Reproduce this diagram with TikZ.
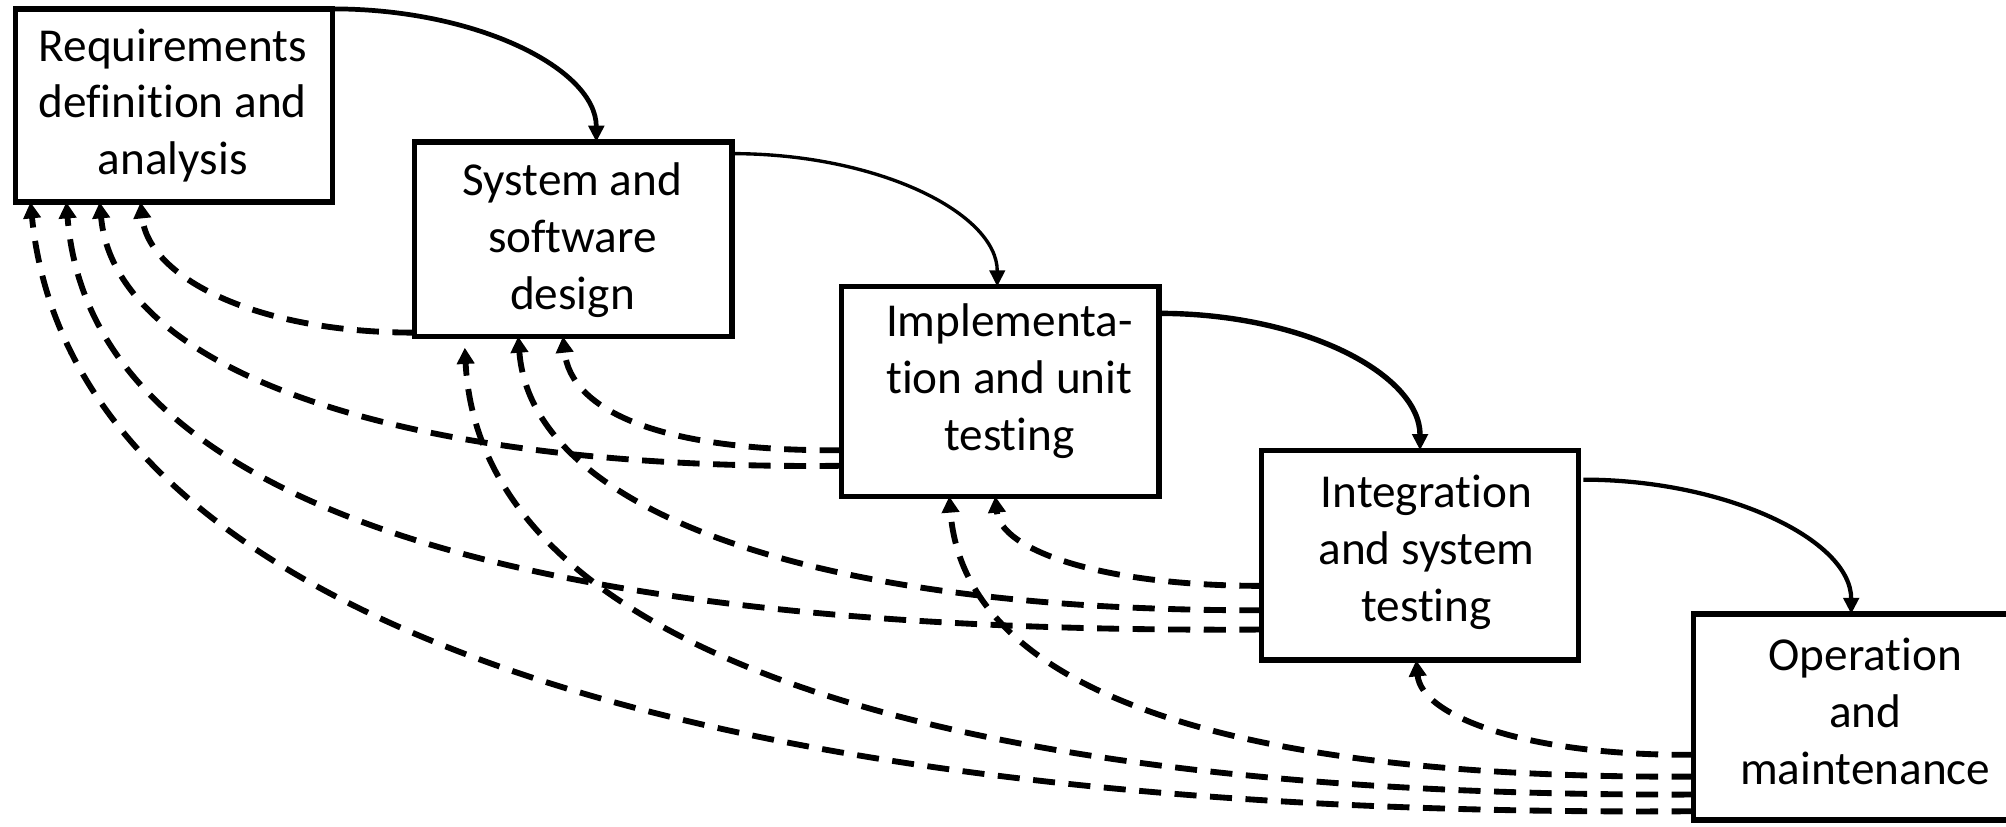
\documentclass[tikz,border=0pt]{standalone}
\usepackage{fontspec}
\setmainfont{Carlito}[Ligatures={NoCommon,NoContextual,NoRare,NoRequired},Contextuals={NoAlternate},RawFeature={-liga}]
\usetikzlibrary{arrows.meta,calc}
\begin{document}
\begin{tikzpicture}[x=0.01cm,y=-0.01cm,
  box/.style={draw,line width=1.2pt,inner sep=0pt,outer sep=0pt},
  lbl/.style={align=center,font=\fontsize{10.5}{12.65}\selectfont,inner sep=0pt},
  fb/.style={line width=1.3pt,dash pattern=on 4.9pt off 3pt,-{Triangle[length=3.6pt,width=3.8pt]}},
  fw/.style={line width=0.95pt,-{Triangle[length=3.6pt,width=3.4pt]}}]
\fill[white] (0,0) rectangle (1568,646);
\clip (0,0) rectangle (1568,646);
% boxes
\node[box,minimum width=2.48cm,minimum height=1.51cm] (b1) at (136,82.5) {};
\node[box,minimum width=2.48cm,minimum height=1.52cm] (b2) at (448,187) {};
\node[box,minimum width=2.48cm,minimum height=1.64cm] (b3) at (782,306) {};
\node[box,minimum width=2.48cm,minimum height=1.64cm] (b4) at (1110,434) {};
\node[box,minimum width=2.68cm,minimum height=1.61cm] (b5) at (1458,560.5) {};
% labels
\node[lbl] (t1) at (135,82.5) {Requirements\\definition and\\analysis};
\node[lbl] (t2) at (447.5,188) {System and\\software\\design};
\node[lbl] (t3) at (789,298) {Implementa-\\tion and unit\\testing};
\node[lbl] (t4) at (1115,432) {Integration\\and system\\testing};
\node[lbl] (t5) at (1458,556) {Operation\\and\\maintenance};
% forward arrows
\draw[fw,line width=1.05pt] (b1.north east) .. controls +(113,0) and +(0,-57) .. ($(b2.north west)!0.573!(b2.north east)$);
\draw[fw,line width=0.75pt] ($(b2.north east)!0.06!(b2.south east)$) .. controls +(115,0) and +(0,-57) .. ($(b3.north west)!0.49!(b3.north east)$);
\draw[fw,line width=1.2pt] ($(b3.north east)!0.128!(b3.south east)$) .. controls +(114,0) and +(0,-59) .. ($(b4.north west)!0.5!(b4.north east)$);
\draw[fw,shorten <=1pt] ($(b4.north east)!0.14!(b4.south east)$) .. controls +(115,0) and +(0,-58) .. ($(b5.north west)!0.459!(b5.north east)$);
% feedback arrows to b1
\draw[fb] ($(b2.north west)!0.98!(b2.south west)$) .. controls +(-124,0) and +(6,59) .. ($(b1.south west)!0.395!(b1.south east)$);
\draw[fb] ($(b3.north west)!0.854!(b3.south west)$) .. controls +(-350,4) and +(12,130) .. ($(b1.south west)!0.266!(b1.south east)$);
\draw[fb] ($(b4.north west)!0.854!(b4.south west)$) .. controls +(-600,4) and +(18,230) .. ($(b1.south west)!0.161!(b1.south east)$);
\draw[fb] ($(b5.north west)!0.957!(b5.south west)$) .. controls +(-850,6) and +(30,300) .. ($(b1.south west)!0.048!(b1.south east)$);
% feedback arrows to b2
\draw[fb] ($(b3.north west)!0.78!(b3.south west)$) .. controls +(-142,1) and +(6,58) .. ($(b2.south west)!0.468!(b2.south east)$);
\draw[fb] ($(b4.north west)!0.762!(b4.south west)$) .. controls +(-360,1) and +(10,133) .. ($(b2.south west)!0.327!(b2.south east)$);
\draw[fb,shorten >=2.5pt] ($(b5.north west)!0.876!(b5.south west)$) .. controls +(-624,2) and +(12,233) .. ($(b2.south west)!0.157!(b2.south east)$);
% feedback arrows to b3
\draw[fb] ($(b4.north west)!0.646!(b4.south west)$) .. controls +(-125,0) and +(4,42) .. ($(b3.south west)!0.484!(b3.south east)$);
\draw[fb] ($(b5.north west)!0.789!(b5.south west)$) .. controls +(-384,2) and +(11,145) .. ($(b3.south west)!0.339!(b3.south east)$);
% feedback arrow to b4
\draw[fb] ($(b5.north west)!0.683!(b5.south west)$) .. controls +(-130,1) and +(4,44) .. ($(b4.south west)!0.488!(b4.south east)$);
\end{tikzpicture}
\end{document}
